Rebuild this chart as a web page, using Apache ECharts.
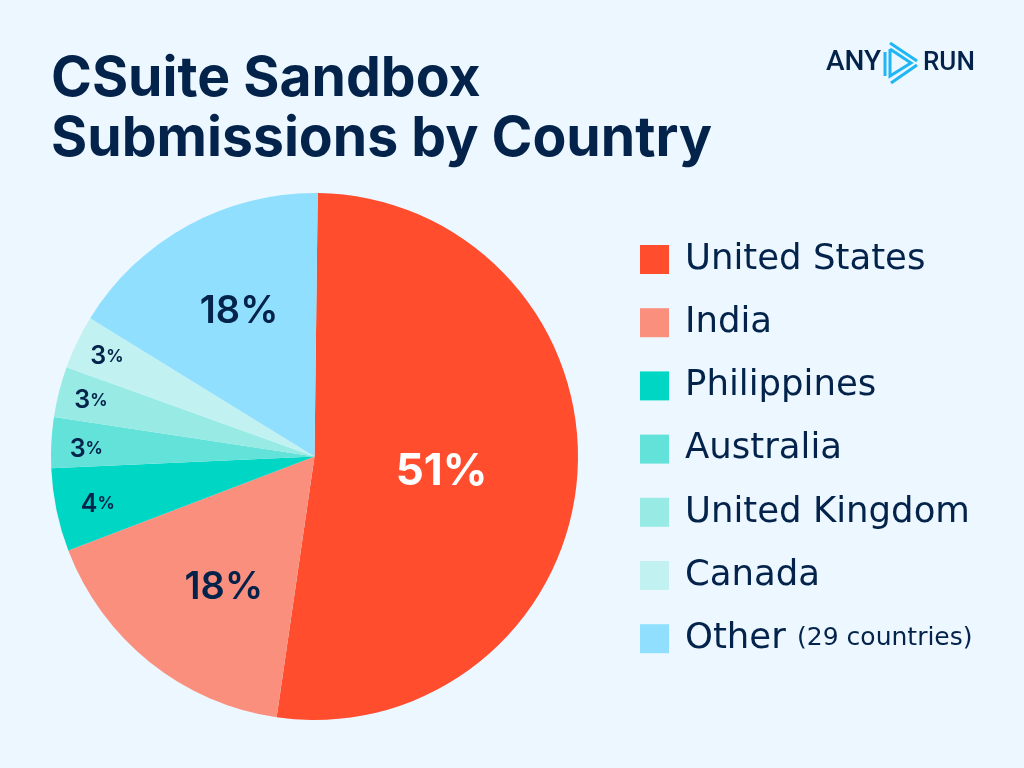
<!DOCTYPE html>
<html><head><meta charset="utf-8">
<style>html,body{margin:0;padding:0;background:#edf7ff}#c{width:1024px;height:768px}</style>
<script src="https://cdn.jsdelivr.net/npm/echarts@6/dist/echarts.min.js"></script>
</head><body><div id="c"></div>
<script>
const categories = ['United States','India','Philippines','Australia','United Kingdom','Canada','Other'];
const sliceShares = [52.1,16.9,5.1,3.1,3.1,3.3,16.4];
const printedPercents = [51,18,4,3,3,3,18];
const colors = ['#ff4d2e','#fb8f7e','#00d6c4','#62e2d9','#97ebe4','#c1f1f1','#90dfff'];
const labelRadiusFractions = [0.48,0.6,0.84,0.86,0.88,0.88,0.63];
const labelNudges = [[-2,5],[10,5],[3,2],[1,5],[4,2],[4,2],[6,3]];
const navy = '#03234b', R = 263.5, font = 'Inter', legendFont = 'DejaVu Sans';
let acc = 0.2;
const total = sliceShares.reduce((a,b)=>a+b,0);
const data = categories.map((name,i)=>{
  const mid = (acc + sliceShares[i]/2)/total*2*Math.PI; acc += sliceShares[i];
  const k = (labelRadiusFractions[i]-0.5)*R;
  const big = printedPercents[i] > 10;
  return {name, value: sliceShares[i], itemStyle:{color:colors[i]},
    label:{offset:[k*Math.sin(mid)+labelNudges[i][0], -k*Math.cos(mid)+labelNudges[i][1]],
      formatter:`{${big?(i===0?'w':'b'):'s'}|${printedPercents[i]}}{${big?(i===0?'wp':'bp'):'sp'}|%}`}};
});
const rich = {
  w:{fontFamily:font,fontSize:44,fontWeight:700,color:'#fff'}, wp:{fontFamily:font,fontSize:44,fontWeight:700,color:'#fff'},
  b:{fontFamily:font,fontSize:38,fontWeight:600,color:navy}, bp:{fontFamily:font,fontSize:38,fontWeight:600,color:navy},
  s:{fontFamily:font,fontSize:25,fontWeight:600,color:navy}, sp:{fontFamily:font,fontSize:17,fontWeight:700,color:navy}
};
const chart = echarts.init(document.getElementById('c'),null,{renderer:'canvas'});
chart.setOption({
  backgroundColor:'#edf7ff', animation:false,
  title:{text:'CSuite Sandbox\nSubmissions by Country',left:46,top:44,
    textStyle:{fontFamily:font,fontSize:55.3,fontWeight:700,color:navy,lineHeight:60}},
  legend:{orient:'vertical',left:640,top:241.5,padding:0,itemWidth:29,itemHeight:29,itemGap:27.2,icon:'rect',selectedMode:false,
    data:categories,
    formatter:n=>n==='Other'?'Other {n|(29 countries)}':n,
    textStyle:{fontFamily:legendFont,fontSize:35.5,fontWeight:400,color:navy,lineHeight:29,padding:[0,0,0,11],
      rich:{n:{fontFamily:legendFont,fontSize:25,color:navy,lineHeight:29}}}},
  series:[{type:'pie',center:[314.5,456.5],radius:[0,R],startAngle:89.3,clockwise:true,silent:true,
    label:{position:'inside',rich},labelLine:{show:false},data}],
  graphic:[
    {type:'text',left:826,top:49,style:{text:'ANY',fontFamily:'Roboto',fontSize:28,fontWeight:500,fill:navy}},
    {type:'text',left:923,top:50,style:{text:'RUN',fontFamily:'Roboto',fontSize:26,fontWeight:500,fill:navy}},
    {type:'polyline',shape:{points:[[890,49],[890,76],[911,63],[890,49]]},style:{stroke:'#1fb6f5',fill:'none',lineWidth:3}},
    {type:'polyline',shape:{points:[[885,52],[885,76]]},style:{stroke:'#1fb6f5',lineWidth:3}},
    {type:'polyline',shape:{points:[[891,83],[917,65]]},style:{stroke:'#1fb6f5',lineWidth:3}},
    {type:'polyline',shape:{points:[[890,43],[917,61]]},style:{stroke:'#1fb6f5',lineWidth:3}}
  ]
});
</script></body></html>
